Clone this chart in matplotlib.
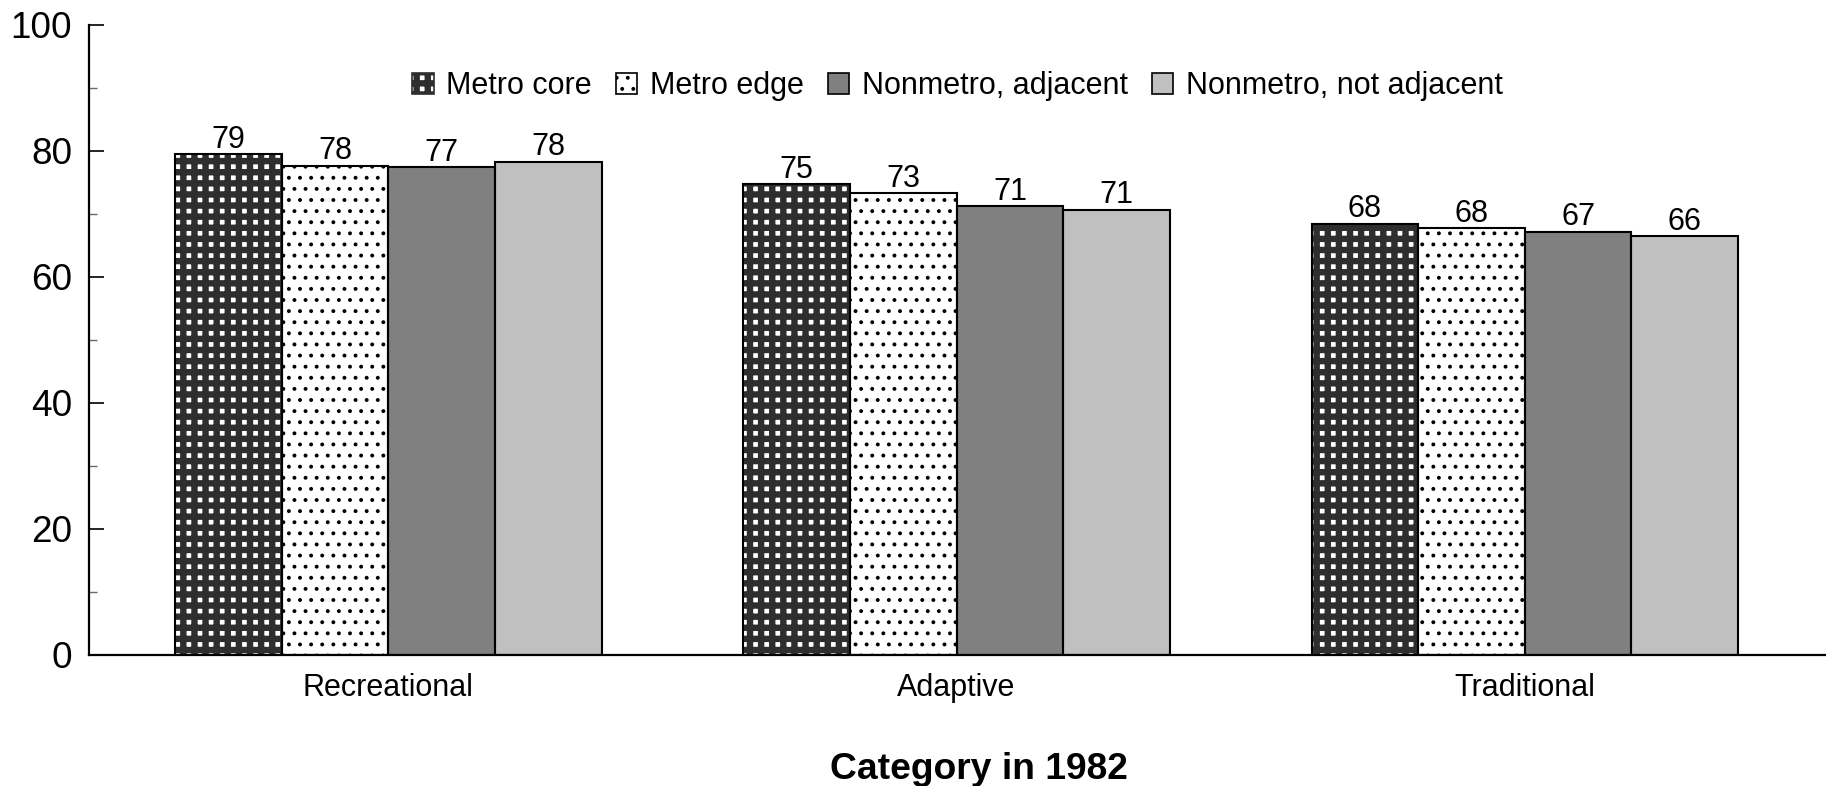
import numpy as np
import matplotlib
matplotlib.use("Agg")
import matplotlib.pyplot as plt
from matplotlib.patches import Patch

#Data
categories = ["Recreational", "Adaptive", "Traditional"]
series = ["Metro core", "Metro edge", "Nonmetro, adjacent", "Nonmetro, not adjacent"]
values = {
    "Metro core":             [79.4, 74.7, 68.4],
    "Metro edge":             [77.6, 73.2, 67.7],
    "Nonmetro, adjacent":     [77.4, 71.2, 67.1],
    "Nonmetro, not adjacent": [78.2, 70.6, 66.4],
}

#Styles (face colour, hatch, hatch colour, hatch linewidth)
styles = {
    "Metro core":             ("white", "+++", "#2e2e2e", 2.3),
    "Metro edge":             ("white", "...", "black", 0.6),
    "Nonmetro, adjacent":     ("#808080", None, None, 0),
    "Nonmetro, not adjacent": ("#c0c0c0", None, None, 0),
}

plt.rcParams['font.family'] = ['Liberation Sans', 'DejaVu Sans']

def set_hatch_lw(artists, lw):
    for a in artists:
        if hasattr(a, 'set_hatch_linewidth'):
            a.set_hatch_linewidth(lw)

fig = plt.figure(figsize=(9.13, 3.93), dpi=200)
ax = fig.add_axes([0.0487, 0.1673, 0.9513, 0.8015])

x = np.arange(len(categories))
width = 0.1877
for i, s in enumerate(series):
    pos = x + (i - 1.5) * width
    face, hatch, hcol, hlw = styles[s]
    if hatch:
        plt.rcParams['hatch.linewidth'] = hlw
        hb = ax.bar(pos, values[s], width, color=face, hatch=hatch, edgecolor=hcol, linewidth=0, zorder=2)
        set_hatch_lw(hb, hlw)
    else:
        ax.bar(pos, values[s], width, color=face, linewidth=0, zorder=2)
    bars = ax.bar(pos, values[s], width, fill=False, edgecolor='black', linewidth=0.75, zorder=3)
    for b, v in zip(bars, values[s]):
        ax.text(b.get_x() + b.get_width()/2, v - 0.1, f"{v:.0f}", ha='center', va='bottom', fontsize=11)

#Axes formatting
ax.set_xlim(-0.527, 2.53)
ax.set_ylim(0, 100)
ax.set_yticks(np.arange(0, 101, 20))
ax.set_yticks(np.arange(10, 100, 20), minor=True)
ax.tick_params(axis='y', which='major', direction='in', length=5.4, width=0.6, labelsize=13.3, pad=6)
ax.tick_params(axis='y', which='minor', direction='in', length=2.9, width=0.5, color='#666666')
ax.set_xticks(x)
ax.set_xticklabels(categories)
ax.tick_params(axis='x', length=0, labelsize=11, pad=6.7)
for sp in ['top', 'right']:
    ax.spines[sp].set_visible(False)
for sp in ['left', 'bottom']:
    ax.spines[sp].set_linewidth(0.8)
ax.set_xlabel("Category in 1982", fontsize=13.4, fontweight='bold')
ax.xaxis.set_label_coords(0.5124, -0.1825)
ax.xaxis.label.set_va('center')

#Legend
handles = []
for s in series:
    face, hatch, hcol, hlw = styles[s]
    if hatch:
        h = Patch(facecolor=face, edgecolor=hcol, hatch=hatch, linewidth=0.6, label=s)
    else:
        h = Patch(facecolor=face, edgecolor='black', linewidth=0.6, label=s)
    handles.append(h)
leg = ax.legend(handles=handles, loc='center', bbox_to_anchor=(0.5, 0.9025), ncol=4, frameon=False,
                fontsize=11, handlelength=0.7, handleheight=0.7, handletextpad=0.4, columnspacing=0.8)
for p, s in zip(leg.get_patches(), series):
    if styles[s][1]:
        set_hatch_lw([p], styles[s][3])

plt.savefig("out.png", dpi=200)
plt.close()
